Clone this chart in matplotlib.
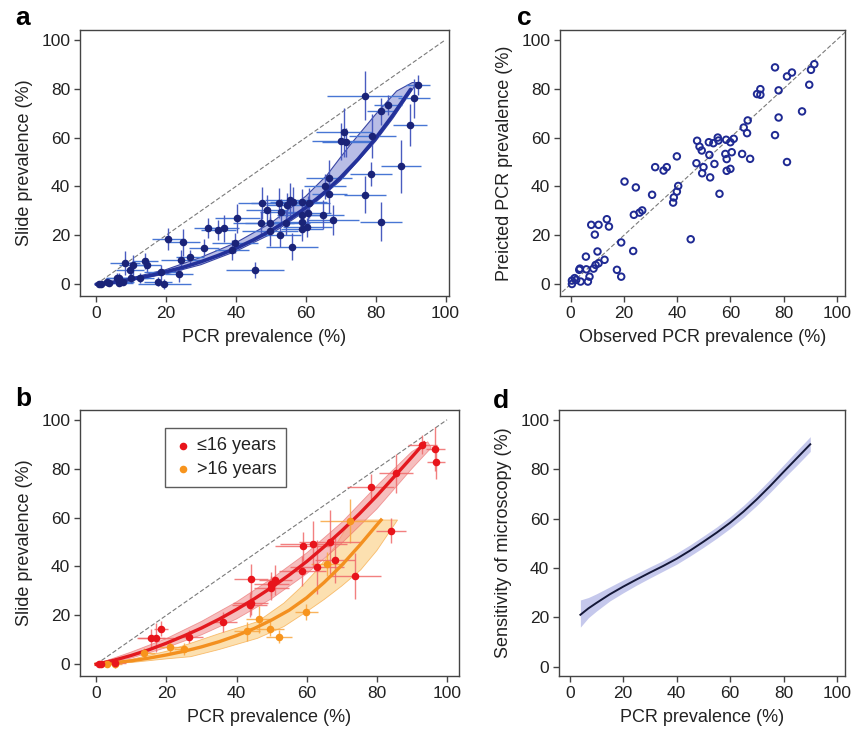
import matplotlib
matplotlib.use("Agg")
import matplotlib.pyplot as plt
import numpy as np

plt.rcParams['font.family'] = ['Liberation Sans', 'DejaVu Sans']
plt.rcParams['text.color'] = '#222222'
plt.rcParams['axes.labelcolor'] = '#222222'
plt.rcParams['xtick.color'] = '#444444'
plt.rcParams['ytick.color'] = '#444444'
plt.rcParams['xtick.labelcolor'] = '#222222'
plt.rcParams['ytick.labelcolor'] = '#222222'

# --- a: slide vs PCR prevalence, all surveys ---
a_pcr = [92.1, 91.0, 89.9, 87.3, 81.6, 76.9, 81.6, 83.5, 79.0, 71.0, 70.2, 71.6, 78.6, 76.9,
         66.7, 65.4, 66.7, 67.8, 64.9, 60.7, 61.0, 59.0, 58.8, 59.0, 59.0, 60.4, 56.4, 55.4,
         54.5, 52.4, 53.0, 54.3, 52.6, 49.9, 49.7, 47.6, 48.8, 47.3, 56.1, 40.4, 36.7, 34.9,
         32.1, 39.7, 38.9, 30.9, 24.8, 20.7, 26.9, 24.2, 23.8, 45.4, 18.6, 17.6, 19.5, 14.5,
         14.0, 10.7, 8.3, 9.7, 10.0, 6.7, 6.7, 3.8, 5.9, 3.0, 1.4, 0.7, 12.6, 7.8]
a_slide = [81.6, 76.1, 65.2, 48.2, 25.6, 77.2, 70.7, 73.4, 60.7, 62.1, 58.4, 58.0, 45.2, 36.6,
           43.4, 40.0, 37.0, 26.3, 28.4, 29.1, 33.2, 33.8, 28.4, 25.6, 22.5, 23.3, 33.8, 34.5,
           32.5, 33.2, 29.7, 25.0, 20.2, 21.6, 25.0, 33.2, 30.4, 25.0, 15.4, 27.0, 22.9, 22.2,
           22.9, 16.8, 14.1, 15.0, 17.1, 18.6, 11.0, 10.0, 4.1, 5.9, 4.9, 1.1, 0.1, 7.9,
           9.5, 7.9, 8.6, 5.9, 2.5, 0.4, 2.5, 0.4, 2.7, 1.1, 0.0, 0.0, 2.5, 1.1]
a_pcr_err = [3.5, 4.5, 4.8, 5.7, 6.0, 10.7, 4.0, 4.0, 6.7, 8.0, 8.5, 7.0, 6.0, 6.0,
             6.5, 6.0, 5.0, 7.5, 6.0, 6.5, 6.0, 7.0, 7.0, 8.0, 6.0, 7.0, 6.7, 7.0,
             6.0, 8.0, 6.0, 7.0, 6.0, 8.0, 7.0, 7.0, 6.0, 8.0, 7.5, 6.5, 4.3, 5.0,
             4.0, 6.5, 5.0, 4.3, 4.8, 4.8, 4.0, 5.7, 4.0, 8.3, 5.0, 4.0, 7.6, 4.0,
             3.8, 4.0, 4.3, 4.0, 5.0, 4.0, 4.0, 3.0, 3.0, 2.0, 1.5, 1.0, 4.0, 3.0]
a_slide_err = [4.0, 8.0, 8.5, 11.0, 8.0, 10.0, 5.5, 4.0, 9.0, 10.0, 7.5, 6.0, 5.0, 7.5,
               7.5, 5.0, 8.0, 6.0, 6.0, 7.0, 6.0, 5.0, 6.0, 5.0, 5.0, 4.0, 6.0, 7.0,
               5.0, 6.0, 5.0, 5.0, 5.0, 6.0, 5.0, 6.5, 6.0, 5.0, 5.5, 6.0, 5.5, 4.0,
               4.0, 4.0, 4.0, 3.5, 5.5, 4.4, 3.0, 4.0, 3.0, 3.4, 3.0, 2.0, 2.0, 3.0,
               3.4, 4.0, 4.8, 3.0, 2.0, 1.0, 2.0, 1.0, 2.0, 1.0, 0.5, 0.5, 2.0, 1.0]

a_fit_x = [0, 5, 10, 15, 20, 25, 30, 35, 40, 45, 50, 55, 60, 65, 70, 75, 80, 85, 90]
a_fit_y = [0, 0.8, 2.0, 3.4, 5.1, 7.0, 9.2, 11.8, 14.7, 18.1, 21.9, 26.3, 31.3, 37.1,
           43.7, 51.2, 59.7, 69.3, 79.7]
a_band_up_x = [0, 10, 20, 30, 40, 50, 60, 66, 70, 73, 80, 86, 90.5]
a_band_up_y = [0, 2.6, 6.0, 11.0, 17.0, 25.0, 36.0, 44.5, 52.0, 57.5, 69.5, 79.0, 82.5]
a_band_lo_x = [0, 10, 20, 30, 40, 50, 60, 70, 80, 85, 90, 91.8]
a_band_lo_y = [0, 1.6, 4.2, 8.0, 13.5, 20.5, 30.0, 42.5, 58.5, 68.0, 78.5, 82.5]

# --- b: slide vs PCR prevalence by age group ---
young_pcr = [93.0, 96.7, 96.9, 85.5, 78.3, 84.0, 66.7, 61.9, 59.0, 68.0, 62.9, 58.8, 73.7,
             51.1, 49.9, 49.9, 44.2, 44.0, 43.8, 36.2, 26.6, 18.5, 17.1, 15.6, 5.4, 1.4, 0.7]
young_slide = [89.8, 88.0, 82.7, 78.2, 72.3, 54.7, 49.9, 49.2, 48.2, 42.7, 39.7, 38.2, 36.2,
               34.5, 32.9, 31.1, 34.8, 25.0, 24.3, 17.2, 11.3, 14.5, 10.9, 10.6, 0.4, 0.0, 0.1]
young_pcr_err = [4.0, 2.6, 2.5, 4.8, 6.7, 4.3, 9.0, 9.5, 8.0, 5.7, 7.6, 6.7, 7.6,
                 4.8, 5.0, 5.0, 4.8, 5.0, 5.0, 3.8, 3.8, 2.1, 5.2, 4.0, 3.0, 1.0, 1.0]
young_slide_err = [4.0, 9.0, 7.0, 8.0, 5.5, 5.0, 13.0, 9.5, 6.0, 9.5, 11.0, 6.0, 9.5,
                   6.0, 5.0, 5.0, 6.0, 5.0, 5.0, 4.0, 2.7, 3.0, 6.0, 4.0, 2.0, 0.5, 0.5]

old_pcr = [72.4, 65.9, 59.9, 46.4, 43.0, 49.5, 52.1, 25.0, 21.1, 13.7, 5.4, 3.0]
old_slide = [58.7, 41.1, 21.3, 18.4, 13.4, 14.5, 11.3, 6.3, 7.0, 4.5, 0.0, 0.0]
old_pcr_err = [8.5, 4.8, 3.3, 3.8, 3.8, 4.0, 3.8, 2.9, 3.3, 3.0, 2.0, 2.0]
old_slide_err = [9.0, 5.0, 3.4, 5.5, 4.0, 3.0, 2.7, 2.4, 2.5, 2.0, 1.0, 1.0]

young_fit_x = [0, 5, 10, 15, 20, 25, 30, 35, 40, 45, 50, 55, 60, 65, 70, 75, 80, 85, 90, 93.5]
young_fit_y = [0, 1.6, 3.6, 5.9, 8.6, 11.6, 14.8, 18.4, 22.4, 26.7, 31.4, 36.5, 42.0, 48.1,
               54.6, 61.5, 68.9, 76.8, 84.8, 90.5]
young_band_up_x = [0, 10, 20, 30, 40, 50, 60, 70, 80, 90, 94.5]
young_band_up_y = [0, 5.0, 10.5, 17.5, 25.5, 35.0, 45.5, 58.0, 73.0, 87.0, 91.0]
young_band_lo_x = [0, 10, 20, 30, 40, 50, 60, 70, 80, 90, 95.5]
young_band_lo_y = [0, 2.5, 6.8, 12.0, 18.5, 26.8, 37.0, 49.5, 63.5, 80.0, 88.5]

old_fit_x = [0, 5, 10, 15, 20, 25, 30, 35, 40, 45, 50, 55, 60, 65, 70, 75, 80, 81.2]
old_fit_y = [0, 0.6, 1.4, 2.5, 3.8, 5.3, 7.1, 9.2, 11.7, 14.6, 18.1, 22.1, 27.2, 33.5,
             40.5, 48.5, 57.0, 59.0]
old_band_up_x = [0, 10, 20, 27, 35, 46, 53.5, 58, 63, 68, 72.6]
old_band_up_y = [0, 2.0, 5.3, 8.6, 12.5, 17.4, 25.0, 31.0, 38.6, 48.0, 59.0]
old_band_lo_x = [0, 10, 20, 27, 35, 46, 53.5, 60, 65, 70, 75.4, 80, 85.9]
old_band_lo_y = [0, 0.7, 2.2, 3.1, 6.0, 10.6, 15.4, 21.5, 26.5, 32.0, 38.6, 46.5, 59.0]

# --- c: predicted vs observed PCR prevalence ---
obs_pcr = [91.5, 90.25, 89.6, 83.1, 81.25, 76.75, 78.1, 71.25, 70.0, 71.25, 86.9, 78.1, 76.75,
           81.25, 66.5, 65.0, 66.25, 64.4, 67.4, 61.25, 60.0, 58.4, 55.25, 55.5, 53.6, 51.9,
           47.5, 48.4, 49.25, 52.1, 58.1, 60.5, 58.6, 54.0, 47.25, 49.9, 49.4, 52.4, 58.6, 60.0,
           55.9, 39.9, 36.1, 34.9, 31.75, 40.4, 39.9, 38.75, 38.5, 30.6, 20.25, 24.5, 26.9, 25.9,
           23.75, 45.1, 19.0, 23.5, 13.6, 14.4, 10.5, 7.75, 9.1, 10.1, 12.75, 10.5, 9.4, 8.6,
           5.75, 5.9, 7.1, 6.5, 3.5, 3.25, 3.75, 17.4, 19.0, 1.5, 0.5, 0.5, 2.1]
pred_pcr = [90.0, 87.7, 81.6, 86.6, 85.0, 88.7, 79.3, 79.8, 77.8, 77.5, 70.7, 68.2, 61.0,
            50.0, 67.0, 64.1, 61.8, 53.3, 51.3, 59.5, 58.1, 59.1, 60.0, 58.8, 57.7, 58.1,
            58.7, 56.3, 54.7, 52.9, 53.3, 54.0, 51.2, 49.2, 49.5, 47.9, 45.4, 43.7, 46.4, 47.2,
            37.0, 52.3, 47.9, 46.5, 47.9, 40.2, 37.9, 35.5, 33.4, 36.6, 42.0, 39.6, 30.2, 29.3,
            28.4, 18.4, 17.1, 13.6, 26.6, 23.6, 24.3, 24.3, 20.3, 13.4, 10.0, 8.6, 7.9, 6.4,
            11.3, 6.1, 3.1, 1.1, 6.4, 5.9, 1.1, 5.9, 3.1, 2.5, 1.5, 0.1, 1.8]

# --- d: sensitivity of microscopy ---
sens_x = [4, 7, 10, 15, 20, 25, 30, 35, 40, 45, 50, 55, 60, 65, 70, 75, 80, 85, 90]
sens_y = [21.0, 23.6, 25.8, 29.3, 32.4, 35.3, 38.1, 40.8, 43.7, 47.0, 50.6, 54.3, 58.3,
          62.8, 67.8, 73.2, 78.9, 84.5, 90.1]
sens_lo = [16.0, 19.8, 22.5, 26.6, 29.9, 33.0, 35.9, 38.7, 41.5, 44.8, 48.3, 52.0, 56.0,
           60.4, 65.3, 70.6, 76.2, 81.6, 87.2]
sens_hi = [27.0, 28.0, 29.5, 32.3, 35.1, 37.7, 40.4, 43.0, 46.0, 49.3, 52.9, 56.6, 60.7,
           65.3, 70.4, 75.9, 81.7, 87.5, 93.2]

ticks = [0, 20, 40, 60, 80, 100]

fig = plt.figure(figsize=(8.52, 7.35), dpi=100)
ax_a = fig.add_axes([0.0939, 0.5973, 0.4331, 0.3619])
ax_c = fig.add_axes([0.6572, 0.5973, 0.3345, 0.3619])
ax_b = fig.add_axes([0.0939, 0.0803, 0.4448, 0.3619])
ax_d = fig.add_axes([0.6561, 0.0803, 0.3357, 0.3619])


def style(ax, xlim, ylim, xlabel, ylabel, letter, letter_x, letter_y):
    ax.set_xlim(*xlim)
    ax.set_ylim(*ylim)
    ax.set_xticks(ticks)
    ax.set_yticks(ticks)
    ax.tick_params(direction='out', length=4, width=1, labelsize=12.5, pad=3)
    for s in ax.spines.values():
        s.set_color('#444444')
        s.set_linewidth(1)
    ax.set_xlabel(xlabel, fontsize=13, labelpad=6)
    ax.set_ylabel(ylabel, fontsize=13, labelpad=6)
    ax.text(letter_x, letter_y, letter, transform=ax.transAxes, fontsize=19,
            fontweight='bold', ha='left', va='baseline', color='black')


# panel a
ax_a.plot([0, 100], [0, 100], ls=(0, (4, 2)), color='#7a7a7a', lw=0.8, zorder=1)
band_a = list(zip(a_band_up_x, a_band_up_y)) + list(zip(a_band_lo_x, a_band_lo_y))[::-1]
ax_a.fill([p[0] for p in band_a], [p[1] for p in band_a], facecolor='#b8bde6',
          edgecolor='#3a46a3', lw=0.8, zorder=2)
ax_a.errorbar(a_pcr, a_slide, xerr=a_pcr_err, fmt='none', ecolor='#4876d4', elinewidth=1,
              zorder=3)
ax_a.errorbar(a_pcr, a_slide, yerr=a_slide_err, fmt='none', ecolor='#4a5cc0', elinewidth=1,
              zorder=3)
ax_a.plot(a_fit_x, a_fit_y, color='#23319a', lw=2.6, zorder=4, solid_capstyle='round')
ax_a.scatter(a_pcr, a_slide, s=30, color='#1a2378', zorder=5, linewidths=0)
style(ax_a, (-4.6, 101), (-4.8, 104), 'PCR prevalence (%)', 'Slide prevalence (%)',
      'a', -0.175, 1.02)

# panel b
ax_b.plot([0, 100], [0, 100], ls=(0, (4, 2)), color='#7a7a7a', lw=0.8, zorder=1)
band_o = list(zip(old_band_up_x, old_band_up_y)) + list(zip(old_band_lo_x, old_band_lo_y))[::-1]
ax_b.fill([p[0] for p in band_o], [p[1] for p in band_o], facecolor='#fcd48f', alpha=0.7,
          edgecolor='#f6a640', lw=0.6, zorder=2)
band_y = list(zip(young_band_up_x, young_band_up_y)) + list(zip(young_band_lo_x, young_band_lo_y))[::-1]
ax_b.fill([p[0] for p in band_y], [p[1] for p in band_y], facecolor='#f08a8a', alpha=0.55,
          edgecolor='#e85a5a', lw=0.6, zorder=2)
ax_b.errorbar(old_pcr, old_slide, xerr=old_pcr_err, yerr=old_slide_err, fmt='none',
              ecolor='#f9a640', elinewidth=1, alpha=0.85, zorder=3)
ax_b.errorbar(young_pcr, young_slide, xerr=young_pcr_err, yerr=young_slide_err, fmt='none',
              ecolor='#f06a6a', elinewidth=1, alpha=0.85, zorder=3)
ax_b.plot(old_fit_x, old_fit_y, color='#f39020', lw=2.4, zorder=4)
ax_b.plot(young_fit_x, young_fit_y, color='#e3191f', lw=2.4, zorder=4)
ax_b.scatter(old_pcr, old_slide, s=30, color='#f7941d', zorder=5, linewidths=0,
             label='>16 years')
ax_b.scatter(young_pcr, young_slide, s=30, color='#e8141b', zorder=5, linewidths=0,
             label='\u226416 years')
h, l = ax_b.get_legend_handles_labels()
leg = ax_b.legend(h[::-1], l[::-1], loc='upper left', bbox_to_anchor=(0.2, 0.965),
                  fontsize=13, frameon=True, fancybox=False, edgecolor='#333333',
                  handletextpad=0.3, borderpad=0.5, labelspacing=0.35, handlelength=1.0,
                  scatterpoints=1)
leg.get_frame().set_linewidth(1)
style(ax_b, (-4.6, 103.4), (-4.8, 104), 'PCR prevalence (%)', 'Slide prevalence (%)',
      'b', -0.17, 1.015)

# panel c
ax_c.plot([-5, 105], [-5, 105], ls=(0, (4, 2)), color='#7a7a7a', lw=0.8, zorder=1)
ax_c.scatter(obs_pcr, pred_pcr, s=22, facecolors='none', edgecolors='#1f2a93',
             linewidths=1.4, zorder=3)
style(ax_c, (-4, 103), (-4.8, 104), 'Observed PCR prevalence (%)',
      'Preicted PCR prevalence (%)', 'c', -0.15, 1.02)

# panel d
ax_d.fill_between(sens_x, sens_lo, sens_hi, color='#c5c8ec', lw=0, zorder=2)
ax_d.plot(sens_x, sens_y, color='#141838', lw=1.4, zorder=3)
style(ax_d, (-4, 103), (-3.8, 104), 'PCR prevalence (%)', 'Sensitivity of microscopy (%)',
      'd', -0.23, 1.008)

fig.savefig('out.png', dpi=100, facecolor='white')
